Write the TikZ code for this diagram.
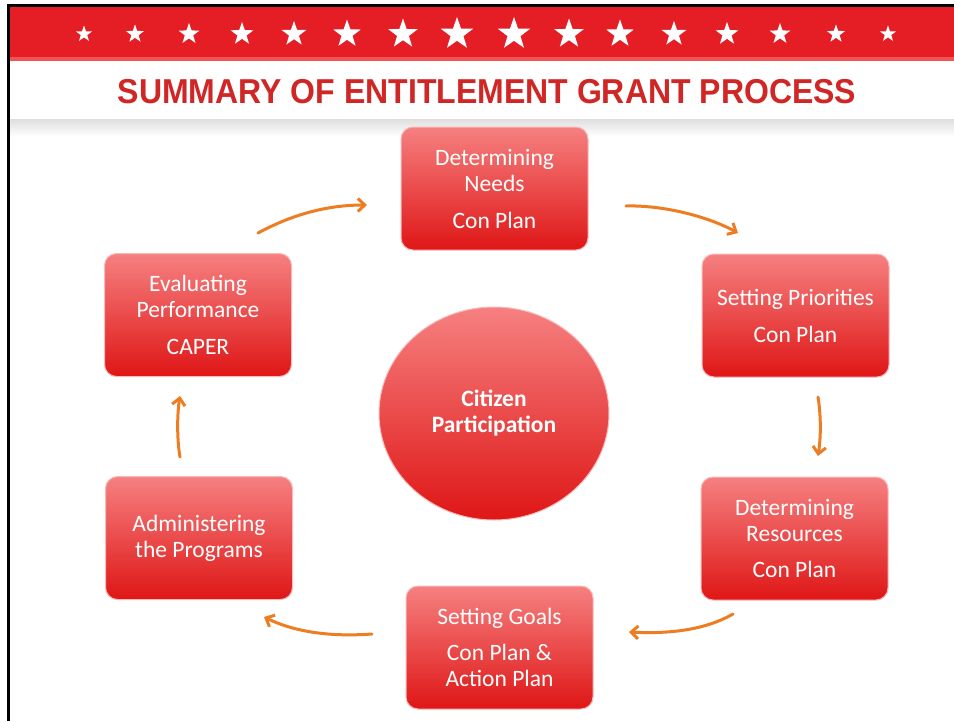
\documentclass[tikz,border=0pt]{standalone}
\usepackage{fontspec}
\setmainfont{Carlito}
\newfontfamily\titlefont{Liberation Sans}
\usetikzlibrary{shapes.geometric,arrows.meta}
\definecolor{bandred}{RGB}{229,30,38}
\definecolor{bandlight}{RGB}{240,85,85}
\definecolor{titlered}{RGB}{208,38,38}
\definecolor{boxtop}{RGB}{246,128,128}
\definecolor{boxbot}{RGB}{223,22,22}
\definecolor{boxrim}{RGB}{250,185,185}
\definecolor{arroworange}{RGB}{236,125,35}
\tikzset{
  stepbox/.style={rectangle, rounded corners=12pt, minimum width=187pt, minimum height=123pt,
    top color=boxtop, bottom color=boxbot, draw=boxrim, line width=1pt,
    text=white, align=center, font=\fontsize{23.5}{26}\selectfont, inner sep=0pt},
  hubnode/.style={ellipse, minimum width=230pt, minimum height=213pt,
    top color=boxtop, bottom color=boxbot, draw=boxrim, line width=1pt,
    text=white, align=center, font=\fontsize{23.5}{26}\selectfont\bfseries, inner sep=0pt},
  flowarrow/.style={draw=arroworange, line width=3pt, line cap=round,
    -{Straight Barb[length=7pt,width=13pt,line width=3pt]}},
  starnode/.style={star, star points=5, star point ratio=2.5, fill=white, inner sep=0pt, draw=none}
}
\begin{document}
\begin{tikzpicture}[x=1pt,y=-1pt]
\useasboundingbox (0,0) rectangle (954,721);
\fill[white] (0,0) rectangle (954,721);
% red band
\fill[bandred] (9,7) rectangle (954,60);
\fill[bandlight] (9,57) rectangle (954,61);
\foreach \i/\x/\s in {1/84/17,2/135/19,3/189/22,4/242/24,5/294/26,6/347/29,7/403/31,8/457/34,9/514/34,10/569/31,11/620/29,12/674/26,13/727/24,14/780/22,15/836/19,16/888/17}
  \node[starnode, minimum size=\s pt] (star\i) at (\x,34) {};
% grey band
\shade[top color=black!13, bottom color=white] (9,119) rectangle (954,136);
% title
\node[text=titlered, font=\titlefont\bfseries\fontsize{32}{36}\selectfont] (title) at (487,92) {\scalebox{1}[1.08]{SUMMARY OF ENTITLEMENT GRANT PROCESS}};
% border
\draw[line width=3pt] (8,721) -- (8,5.5) -- (954,5.5);
% boxes
\node[stepbox] (needs) at (494.5,188.5) {Determining\\Needs\\[11pt]Con Plan};
\node[stepbox] (prio) at (795.5,315.5) {Setting Priorities\\[11pt]Con Plan};
\node[stepbox] (res) at (794.5,538.5) {Determining\\Resources\\[10pt]Con Plan};
\node[stepbox] (goals) at (499.5,647.5) {Setting Goals\\[10pt]Con Plan \&\\Action Plan};
\node[stepbox] (admin) at (199,538) {Administering\\the Programs};
\node[stepbox] (eval) at (198,315) {Evaluating\\Performance\\[11pt]CAPER};
\node[hubnode] (hub) at (494,413.5) {Citizen\\Participation};
% arrow end points
\coordinate (a1s) at (258,233); \coordinate (a1e) at (367,205);
\coordinate (a2s) at (626,206); \coordinate (a2e) at (738,233);
\coordinate (a3s) at (818,397); \coordinate (a3e) at (818,456);
\coordinate (a4s) at (733,614); \coordinate (a4e) at (629,632);
\coordinate (a5s) at (372,634); \coordinate (a5e) at (264,617);
\coordinate (a6s) at (180,457); \coordinate (a6e) at (180,396);
\draw[flowarrow] (a1s) .. controls (295,213) and (330,205) .. (a1e);
\draw[flowarrow] (a2s) .. controls (660,205) and (705,215) .. (a2e);
\draw[flowarrow] (a3s) .. controls (821,415) and (821,437) .. (a3e);
\draw[flowarrow] (a4s) .. controls (705,630) and (670,634) .. (a4e);
\draw[flowarrow] (a5s) .. controls (330,637) and (295,632) .. (a5e);
\draw[flowarrow] (a6s) .. controls (177,440) and (177,415) .. (a6e);
\end{tikzpicture}
\end{document}
